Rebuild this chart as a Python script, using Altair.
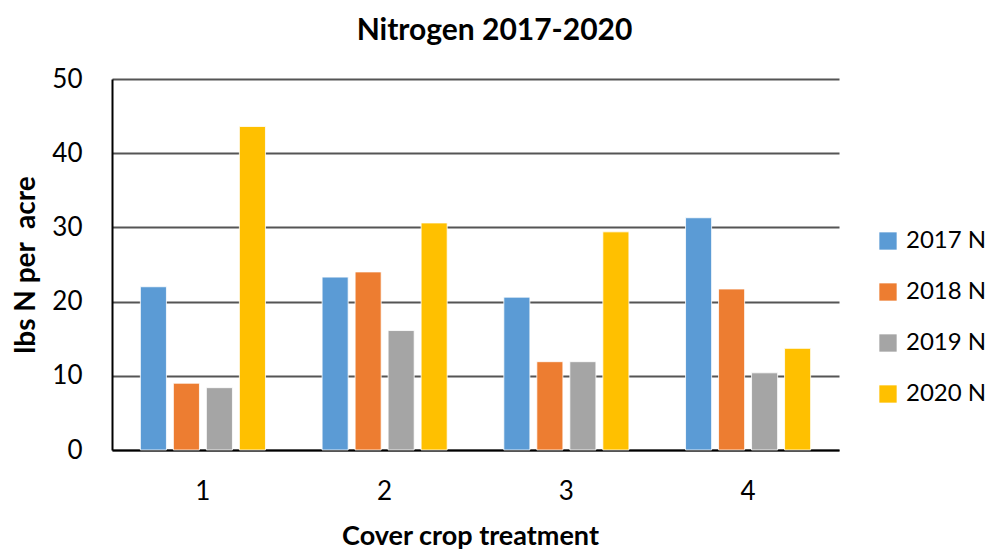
import altair as alt
import pandas as pd

treatments = ["1", "2", "3", "4"]
series = ["2017 N", "2018 N", "2019 N", "2020 N"]
v2017 = [22.0, 23.3, 20.6, 31.3]
v2018 = [9.0, 24.0, 11.9, 21.7]
v2019 = [8.4, 16.1, 11.9, 10.4]
v2020 = [43.6, 30.6, 29.4, 13.7]
colors = ["#5B9BD5", "#ED7D31", "#A5A5A5", "#FFC000"]

rows = []
for s, vals in zip(series, [v2017, v2018, v2019, v2020]):
    for t, v in zip(treatments, vals):
        rows.append({"Treatment": t, "Series": s, "Value": v})
df = pd.DataFrame(rows)

FONT = "Lato"

chart = alt.Chart(df).mark_bar(stroke="white", strokeWidth=0.8).encode(
    x=alt.X("Treatment:N", sort=treatments,
            scale=alt.Scale(paddingInner=0.2735, paddingOuter=0.137),
            axis=alt.Axis(title="Cover crop treatment", labelAngle=0,
                          labelFontSize=26, labelFont=FONT, labelColor="black",
                          labelPadding=28, ticks=False,
                          domainColor="black", domainWidth=2,
                          titleFontSize=27, titleFont=FONT, titleFontWeight="bold",
                          titleColor="black", titlePadding=19, titleX=358)),
    xOffset=alt.XOffset("Series:N", sort=series,
                        scale=alt.Scale(paddingInner=0.21, paddingOuter=0.105)),
    y=alt.Y("Value:Q", scale=alt.Scale(domain=[0, 50]),
            axis=alt.Axis(title="lbs N per\u00a0 acre", values=[0, 10, 20, 30, 40, 50],
                          labelFontSize=26, labelFont=FONT, labelColor="black",
                          labelPadding=30, ticks=False,
                          domainColor="black", domainWidth=2,
                          gridColor="#555555", gridWidth=2,
                          titleFontSize=28, titleFont=FONT, titleFontWeight="bold",
                          titleColor="black", titlePadding=11)),
    color=alt.Color("Series:N", sort=series,
                    scale=alt.Scale(domain=series, range=colors),
                    legend=alt.Legend(title=None, orient="none", legendX=764, legendY=150,
                                      symbolType="square", symbolSize=300,
                                      symbolStrokeWidth=0,
                                      labelFontSize=24, labelFont=FONT, labelColor="black",
                                      rowPadding=27, labelOffset=6)),
).properties(
    width=727, height=371,
    title=alt.TitleParams("Nitrogen 2017-2020", fontSize=30, font=FONT,
                          fontWeight="bold", color="black", offset=20, dx=19),
    autosize=alt.AutoSizeParams(type="none"),
    padding={"left": 104, "top": 71, "right": 150, "bottom": 102},
).configure_view(stroke=None)

chart.save("out.html", embed_options={"renderer": "svg", "actions": False})
